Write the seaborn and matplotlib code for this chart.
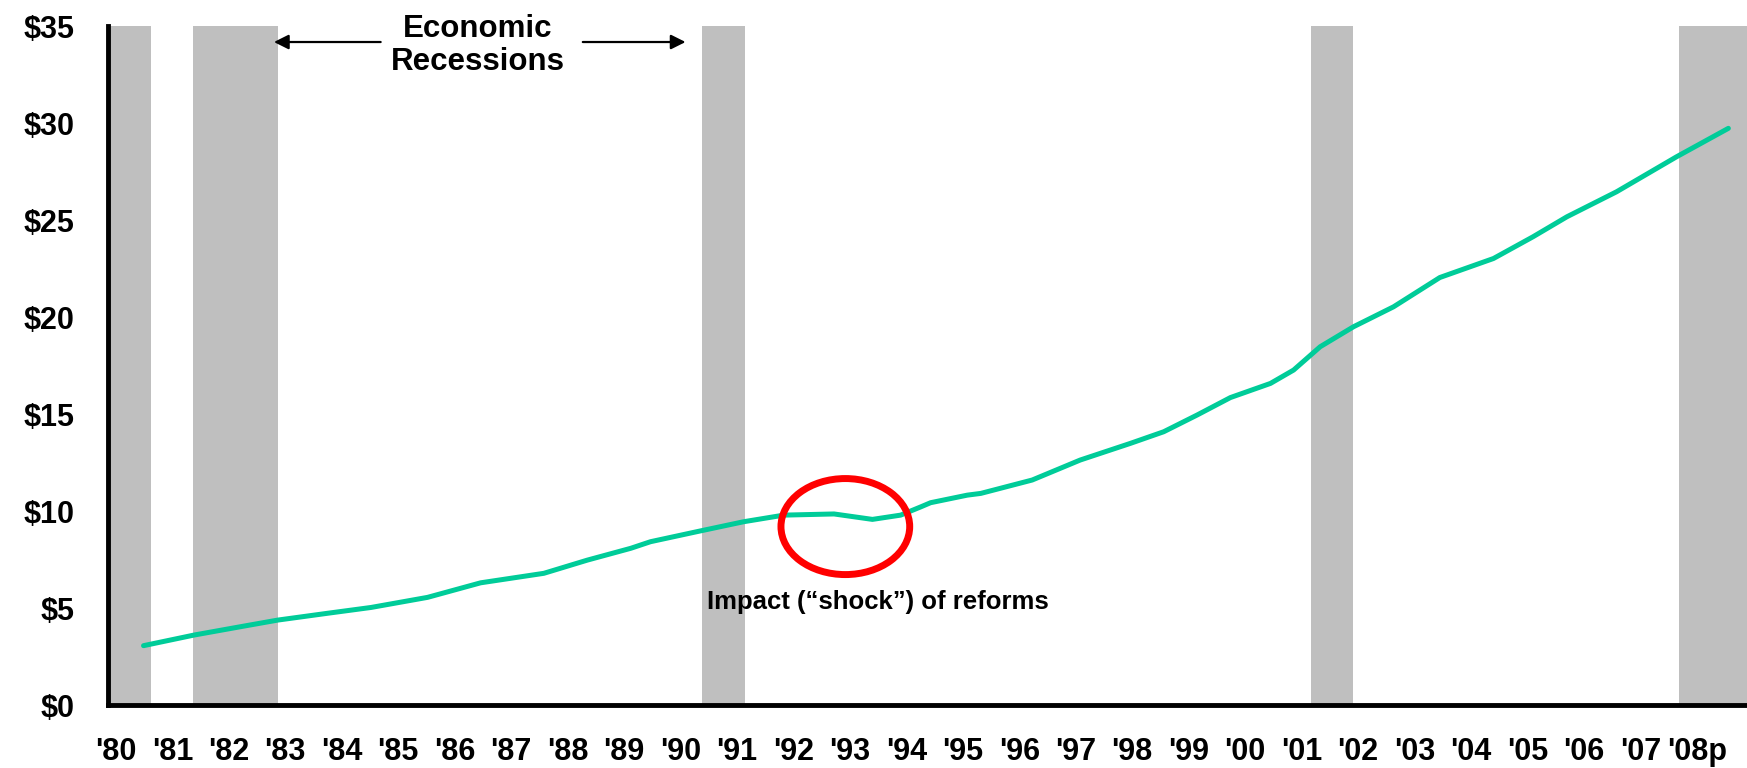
import numpy as np
import pandas as pd
import matplotlib
matplotlib.use("Agg")
import matplotlib.pyplot as plt
from matplotlib.patches import Ellipse
import seaborn as sns

# ---- data ----
years = [1980.49, 1981.39, 1982.27, 1982.87, 1983.75, 1984.52, 1985.52, 1986.46,
         1987.58, 1988.35, 1989.12, 1989.47, 1990.36, 1991.12, 1991.83, 1992.72,
         1993.40, 1993.90, 1994.26, 1994.43, 1995.08, 1995.32, 1996.23, 1997.08,
         1997.97, 1998.56, 1999.15, 1999.74, 2000.45, 2000.86, 2001.33, 2001.92,
         2002.63, 2003.45, 2004.40, 2005.10, 2005.70, 2006.58, 2007.64, 2008.56]
values = [3.06, 3.61, 4.07, 4.38, 4.73, 5.03, 5.55, 6.30,
          6.79, 7.47, 8.08, 8.42, 8.98, 9.45, 9.79, 9.85,
          9.57, 9.79, 10.22, 10.43, 10.82, 10.91, 11.60, 12.63,
          13.49, 14.09, 14.95, 15.85, 16.58, 17.27, 18.47, 19.50,
          20.53, 22.04, 23.02, 24.14, 25.17, 26.46, 28.26, 29.73]

recession_start = [1979.80, 1981.37, 1990.39, 2001.17, 2007.68]
recession_end = [1980.62, 1982.87, 1991.14, 2001.92, 2009.50]

tick_years = list(range(1980, 2009))
tick_labels = ["'80", "'81", "'82", "'83", "'84", "'85", "'86", "'87", "'88", "'89",
               "'90", "'91", "'92", "'93", "'94", "'95", "'96", "'97", "'98", "'99",
               "'00", "'01", "'02", "'03", "'04", "'05", "'06", "'07", "'08p"]
y_ticks = [0, 5, 10, 15, 20, 25, 30, 35]
y_labels = ["$0", "$5", "$10", "$15", "$20", "$25", "$30", "$35"]

df = pd.DataFrame({"year": years, "value": values})

# ---- style ----
sns.set_style("white")
plt.rcParams["font.family"] = ["Liberation Sans", "DejaVu Sans"]
plt.rcParams["font.weight"] = "bold"
plt.rcParams["text.color"] = "black"
plt.rcParams["xtick.color"] = "black"
plt.rcParams["ytick.color"] = "black"
plt.rcParams["axes.labelcolor"] = "black"

fig = plt.figure(figsize=(17.47, 7.68), dpi=100)
ax = fig.add_axes([0.0618, 0.082, 0.9382, 0.884])

for s, e in zip(recession_start, recession_end):
    ax.axvspan(s, e, color="#BFBFBF", lw=0, zorder=0)

sns.lineplot(data=df, x="year", y="value", ax=ax, color="#00CC99", lw=3.6,
             solid_capstyle="round", solid_joinstyle="round", zorder=3)

ax.set_xlim(1979.86, 2008.89)
ax.set_ylim(0, 35)
ax.set_xlabel("")
ax.set_ylabel("")

ax.set_xticks(tick_years)
ax.set_xticklabels(tick_labels, fontsize=22, fontweight="bold", color="black")
ax.set_yticks(y_ticks)
ax.set_yticklabels(y_labels, fontsize=22, fontweight="bold", color="black")
ax.tick_params(axis="x", length=0, pad=23)
ax.tick_params(axis="y", length=0, pad=24)

for side in ["top", "right"]:
    ax.spines[side].set_visible(False)
for side in ["left", "bottom"]:
    ax.spines[side].set_linewidth(3.5)
    ax.spines[side].set_color("black")
    ax.spines[side].set_zorder(5)

# annotations
ax.text(1986.41, 34.0, "Economic\nRecessions", ha="center", va="center",
        fontsize=22.5, fontweight="bold", linespacing=1.1, clip_on=False,
        color="black")
ax.annotate("", xy=(1982.80, 34.18), xytext=(1984.69, 34.18),
            arrowprops=dict(arrowstyle="-|>", color="black", lw=1.6,
                            mutation_scale=22, shrinkA=0, shrinkB=0))
ax.annotate("", xy=(1990.09, 34.18), xytext=(1988.27, 34.18),
            arrowprops=dict(arrowstyle="-|>", color="black", lw=1.6,
                            mutation_scale=22, shrinkA=0, shrinkB=0))

ax.add_patch(Ellipse((1992.92, 9.2), 2.28, 4.95, fill=False, edgecolor="#FF0000",
                     lw=5, zorder=4))
ax.text(1993.49, 5.31, "Impact (\u201cshock\u201d) of reforms", ha="center",
        va="center", fontsize=18.5, fontweight="bold", color="black")

fig.savefig("out.png", dpi=100)
